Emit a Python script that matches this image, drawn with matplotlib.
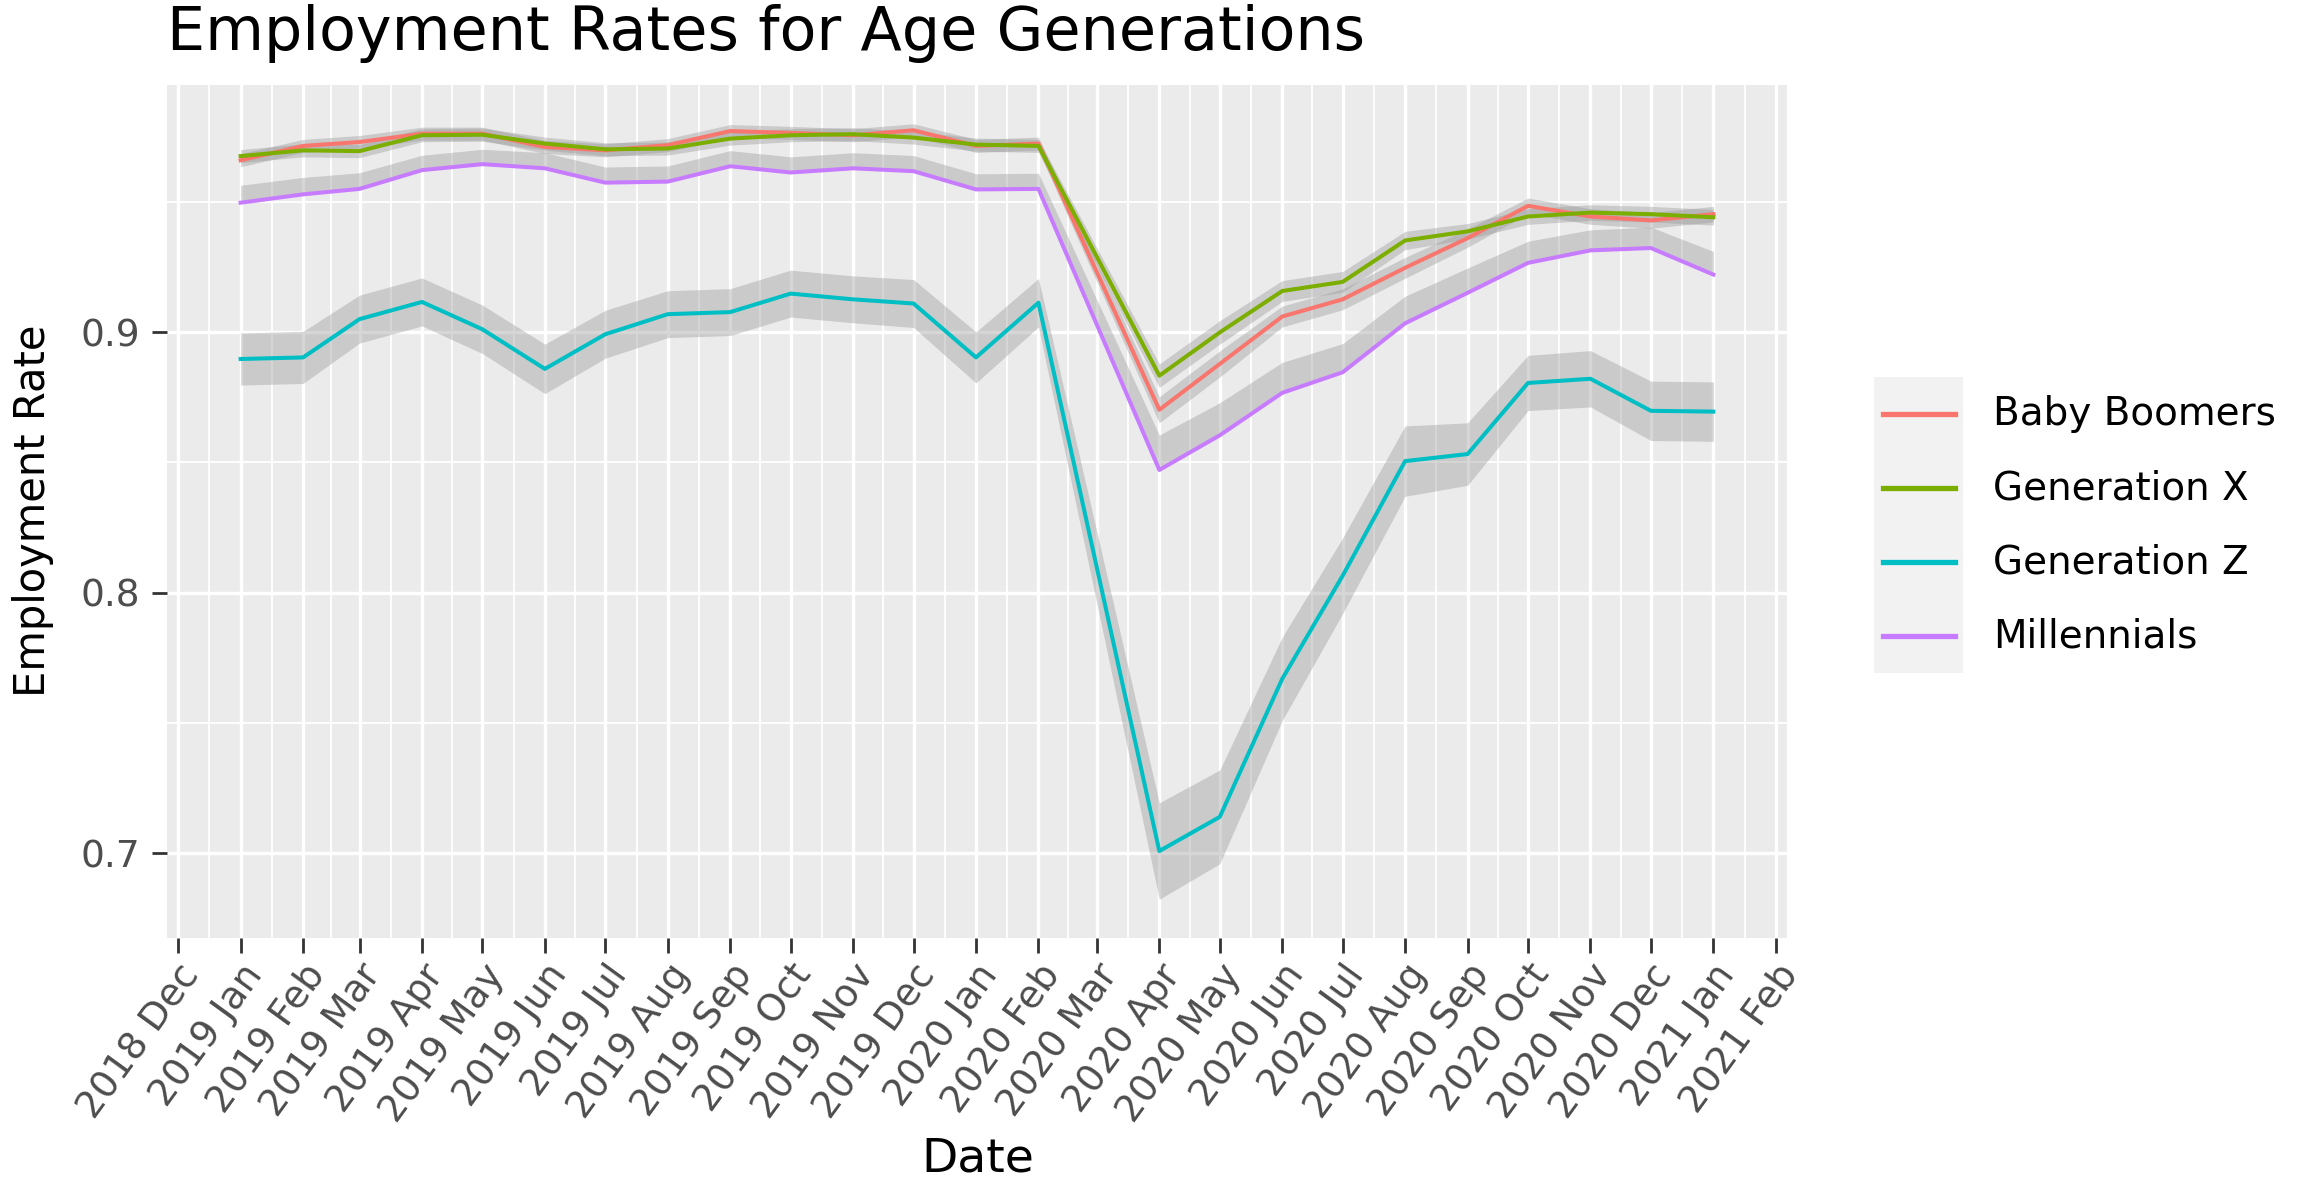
import matplotlib
matplotlib.use("Agg")
import matplotlib.pyplot as plt
import matplotlib.dates as mdates
from matplotlib.patches import Rectangle
from matplotlib.lines import Line2D
import pandas as pd

# monthly survey points (no March 2020 data)
dates = pd.to_datetime([
    "2019-01-01", "2019-02-01", "2019-03-01", "2019-04-01", "2019-05-01", "2019-06-01",
    "2019-07-01", "2019-08-01", "2019-09-01", "2019-10-01", "2019-11-01", "2019-12-01",
    "2020-01-01", "2020-02-01", "2020-04-01", "2020-05-01", "2020-06-01", "2020-07-01",
    "2020-08-01", "2020-09-01", "2020-10-01", "2020-11-01", "2020-12-01", "2021-01-01",
])

baby_boomers = [0.9660, 0.9715, 0.9730, 0.9762, 0.9762, 0.9711, 0.9698, 0.9718, 0.9772, 0.9765,
                0.9756, 0.9775, 0.9715, 0.9724, 0.8702, 0.8878, 0.9060, 0.9126, 0.9247, 0.9361,
                0.9485, 0.9444, 0.9429, 0.9453]
gen_x = [0.9676, 0.9698, 0.9695, 0.9756, 0.9758, 0.9724, 0.9702, 0.9705, 0.9743, 0.9756,
         0.9760, 0.9747, 0.9720, 0.9715, 0.8833, 0.8999, 0.9158, 0.9193, 0.9352, 0.9387,
         0.9444, 0.9459, 0.9453, 0.9441]
gen_z = [0.8897, 0.8903, 0.9050, 0.9116, 0.9011, 0.8859, 0.8992, 0.9069, 0.9077, 0.9148,
         0.9126, 0.9110, 0.8903, 0.9113, 0.7008, 0.7139, 0.7669, 0.8065, 0.8505, 0.8532,
         0.8805, 0.8821, 0.8698, 0.8695]
millennials = [0.9497, 0.9529, 0.9550, 0.9622, 0.9645, 0.9629, 0.9574, 0.9578, 0.9637, 0.9613,
               0.9629, 0.9618, 0.9548, 0.9550, 0.8471, 0.8604, 0.8767, 0.8846, 0.9034, 0.9151,
               0.9266, 0.9314, 0.9323, 0.9221]

# ribbon widths (lower, upper margins)
bb_err = [0.0025, 0.0025, 0.0025, 0.0025, 0.0025, 0.0025, 0.0025, 0.0025, 0.0025, 0.0025,
          0.0025, 0.0025, 0.0025, 0.0025, 0.0050, 0.0050, 0.0040, 0.0040, 0.0040, 0.0035,
          0.0030, 0.0030, 0.0030, 0.0030]
gx_err = [0.0025, 0.0025, 0.0025, 0.0025, 0.0025, 0.0025, 0.0025, 0.0025, 0.0025, 0.0025,
          0.0025, 0.0025, 0.0025, 0.0025, 0.0045, 0.0045, 0.0040, 0.0040, 0.0035, 0.0030,
          0.0030, 0.0030, 0.0030, 0.0030]
gz_err = [0.0100, 0.0100, 0.0092, 0.0092, 0.0093, 0.0095, 0.0092, 0.0090, 0.0090, 0.0090,
          0.0090, 0.0092, 0.0098, 0.0093, 0.0185, 0.0180, 0.0160, 0.0145, 0.0135, 0.0120,
          0.0106, 0.0108, 0.0114, 0.0114]
mil_band = [0.0067, 0.0065, 0.0062, 0.0057, 0.0057, 0.0060, 0.0060, 0.0060, 0.0060, 0.0060,
            0.0060, 0.0060, 0.0060, 0.0060, 0.0134, 0.0125, 0.0117, 0.0110, 0.0104, 0.0095,
            0.0083, 0.0079, 0.0080, 0.0089]

labels = ["Baby Boomers", "Generation X", "Generation Z", "Millennials"]
colors = ["#F8766D", "#7CAE00", "#00BFC4", "#C77CFF"]

series = [
    (baby_boomers, [v - e for v, e in zip(baby_boomers, bb_err)], [v + e for v, e in zip(baby_boomers, bb_err)]),
    (gen_x, [v - e for v, e in zip(gen_x, gx_err)], [v + e for v, e in zip(gen_x, gx_err)]),
    (gen_z, [v - e for v, e in zip(gen_z, gz_err)], [v + e for v, e in zip(gen_z, gz_err)]),
    (millennials, millennials, [v + e for v, e in zip(millennials, mil_band)]),
]

W, H = 2306, 1184
fig = plt.figure(figsize=(W / 100, H / 100), dpi=100)
ax = fig.add_axes([167 / W, 1 - 938 / H, (1787 - 167) / W, (938 - 85) / H])
ax.set_facecolor("#EBEBEB")
for s in ax.spines.values():
    s.set_visible(False)

for (vals, lo, hi), c in zip(series, colors):
    ax.fill_between(dates, lo, hi, color="#999999", alpha=0.4, linewidth=0, zorder=2)
for (vals, lo, hi), c in zip(series, colors):
    ax.plot(dates, vals, color=c, linewidth=2.9, zorder=3)

# ggplot-like expansion (5%)
all_lo = min(min(s[1]) for s in series)
all_hi = max(max(s[2]) for s in series)
span = all_hi - all_lo
ax.set_ylim(all_lo - 0.05 * span, all_hi + 0.05 * span)
x0, x1 = mdates.date2num(dates[0]), mdates.date2num(dates[-1])
ax.set_xlim(x0 - 0.05 * (x1 - x0), x1 + 0.05 * (x1 - x0))

month_ticks = pd.date_range("2018-12-01", "2021-02-01", freq="MS")
ax.set_xticks(month_ticks)
ax.set_xticklabels([d.strftime("%Y %b") for d in month_ticks])
mt = mdates.date2num(month_ticks)
ax.set_xticks([(a + b) / 2 for a, b in zip(mt[:-1], mt[1:])], minor=True)
ax.set_yticks([0.7, 0.8, 0.9])
ax.set_yticklabels(["0.7", "0.8", "0.9"])
ax.set_yticks([0.75, 0.85, 0.95], minor=True)

ax.grid(which="major", color="white", linewidth=2.4, zorder=1)
ax.grid(which="minor", color="white", linewidth=1.3, zorder=1)
ax.set_axisbelow(True)

ax.tick_params(which="major", length=10.5, width=2, color="#333333", labelsize=27,
               labelcolor="#4D4D4D")
ax.tick_params(which="minor", length=0)
ax.tick_params(axis="y", pad=9)
ax.tick_params(axis="x", pad=4)
plt.setp(ax.get_xticklabels(), rotation=54, ha="right", va="top", rotation_mode="anchor")

fig.text(167 / W, 1 - 50 / H, "Employment Rates for Age Generations", fontsize=43.5,
         color="black", ha="left", va="baseline")
fig.text(978 / W, 1 - 1172 / H, "Date", fontsize=34, ha="center", va="baseline")
fig.text(33 / W, 1 - 511 / H, "Employment Rate", fontsize=30, rotation=90,
         ha="center", va="center")

# legend, drawn by hand to mimic ggplot keys
key_x0, key_x1, key_top, key_h = 1874, 1963, 377, 74
fig.add_artist(Rectangle((key_x0 / W, 1 - (key_top + 4 * key_h) / H), (key_x1 - key_x0) / W,
                         4 * key_h / H, transform=fig.transFigure, facecolor="#F2F2F2",
                         edgecolor="none"))
for i, (lab, c) in enumerate(zip(labels, colors)):
    yc = 1 - (key_top + key_h * (i + 0.5)) / H
    fig.add_artist(Line2D([1883 / W, 1955 / W], [yc, yc], transform=fig.transFigure,
                          color=c, linewidth=3.8))
    fig.text(1993 / W, yc, lab, fontsize=28, color="black", ha="left", va="center")

fig.savefig("out.png", dpi=100)
